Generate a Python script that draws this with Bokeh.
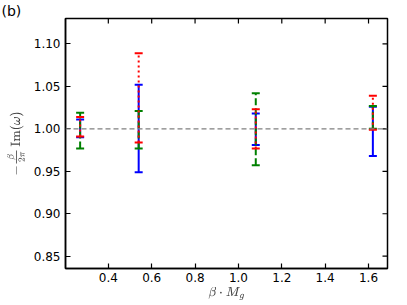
import math
from bokeh.plotting import figure
from bokeh.models import FixedTicker, Span, Range1d, TeX, NumeralTickFormatter
from bokeh.embed import file_html
from bokeh.resources import INLINE

# data
x_vals = [0.27, 0.54, 1.08, 1.62]
red_upper = [1.014, 1.089, 1.023, 1.039]
red_lower = [0.991, 0.984, 0.977, 0.999]
green_upper = [1.019, 1.021, 1.042, 1.027]
green_lower = [0.977, 0.977, 0.957, 1.000]
blue_upper = [1.011, 1.052, 1.018, 1.026]
blue_lower = [0.990, 0.949, 0.981, 0.968]
x_ticks = [0.4, 0.6, 0.8, 1.0, 1.2, 1.4, 1.6]
y_ticks = [0.85, 0.90, 0.95, 1.00, 1.05, 1.10]
ref_level = 1.0

FONT = "DejaVu Sans"
X0, X1 = 0.2025, 1.6875
Y0, Y1 = 0.8355, 1.13
W, H = 407, 305

p = figure(width=W, height=H,
           x_range=Range1d(X0, X1), y_range=Range1d(Y0, Y1),
           output_backend="svg", toolbar_location=None,
           min_border_left=65, min_border_right=20, min_border_top=18, min_border_bottom=37)
p.grid.visible = False
p.outline_line_color = "black"
p.outline_line_width = 1.5
p.background_fill_color = "white"
p.border_fill_color = "white"

# panel tag "(b)" at the top-left corner
p.title.text = "(b)"
p.title.align = "left"
p.title.offset = -64
p.title.standoff = 0
p.title.text_font = FONT
p.title.text_font_size = "14px"
p.title.text_font_style = "normal"
p.title.text_color = "black"

def style_axis(ax):
    ax.major_tick_in = 5
    ax.major_tick_out = 0
    ax.minor_tick_in = 0
    ax.minor_tick_out = 0
    ax.axis_line_width = 1.5
    ax.axis_line_color = "black"
    ax.major_tick_line_width = 1.2
    ax.major_tick_line_color = "black"
    ax.major_label_text_font = FONT
    ax.major_label_text_font_size = "12px"
    ax.major_label_text_color = "black"

xa = p.xaxis[0]
ya = p.yaxis[0]
xa.ticker = FixedTicker(ticks=x_ticks)
ya.ticker = FixedTicker(ticks=y_ticks)
xa.formatter = NumeralTickFormatter(format="0.0")
ya.formatter = NumeralTickFormatter(format="0.00")
style_axis(xa)
style_axis(ya)
xa.major_label_standoff = 4
ya.major_label_standoff = 5
xa.axis_label = TeX(r"\beta \cdot M_g")
ya.axis_label = TeX(r"-\tfrac{\beta}{2\pi}\,\mathrm{Im}(\omega)")
xa.axis_label_text_font_size = "11px"
ya.axis_label_text_font_size = "11px"
xa.axis_label_standoff = 2
ya.axis_label_standoff = 6

# inward tick marks on the top and right edges (half of each mark is clipped by the frame)
p.scatter(x=x_ticks, y=[Y1] * len(x_ticks), marker="dash", angle=math.pi / 2,
          size=10, line_color="black", line_width=1.2)
p.scatter(x=[X1] * len(y_ticks), y=y_ticks, marker="dash",
          size=10, line_color="black", line_width=1.2)

p.add_layout(Span(location=ref_level, dimension="width", line_color="gray",
                  line_dash="5 3", line_width=1.3))

series = [
    (blue_lower, blue_upper, "blue", "solid"),
    (green_lower, green_upper, "green", "7 3"),
    (red_lower, red_upper, "red", "2 3"),
]
for lo, hi, col, dash in series:
    p.segment(x0=x_vals, y0=lo, x1=x_vals, y1=hi, line_color=col,
              line_width=2, line_dash=dash)
    p.scatter(x=x_vals, y=hi, marker="dash", size=8, line_color=col, line_width=2)
    p.scatter(x=x_vals, y=lo, marker="dash", size=8, line_color=col, line_width=2)

open("out.html", "w").write(file_html(p, INLINE))
